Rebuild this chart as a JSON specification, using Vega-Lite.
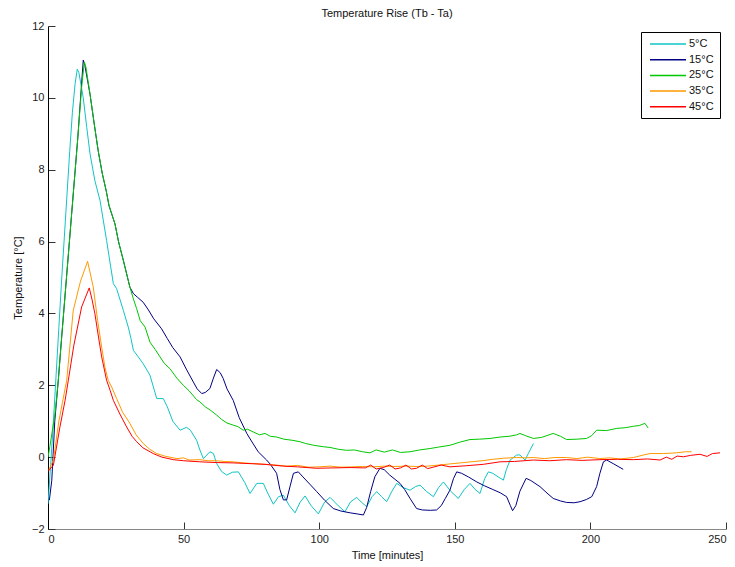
{
  "$schema": "https://vega.github.io/schema/vega-lite/v6.json",
  "autosize": {"type": "none"},
  "width": 678,
  "height": 503,
  "padding": {"left": 48, "top": 26, "right": 9, "bottom": 38},
  "background": "white",
  "config": {
    "view": {"stroke": null},
    "font": "Liberation Sans",
    "axis": {"grid": false, "labelFont": "Liberation Sans", "titleFont": "Liberation Sans", "labelFontSize": 11, "titleFontSize": 11, "titleFontWeight": "normal", "labelColor": "#222", "titleColor": "#111", "tickColor": "#333", "tickSize": -7, "labelPadding": 11}
  },
  "title": {"text": "Temperature Rise (Tb - Ta)", "font": "Liberation Sans", "fontSize": 11, "fontWeight": "normal", "color": "#111", "offset": 1},
  "data": {"values": [
{"s":"5°C","t":0,"v":-1.3},{"s":"5°C","t":1,"v":-0.2},{"s":"5°C","t":2,"v":1.0},{"s":"5°C","t":3,"v":2.3},{"s":"5°C","t":4,"v":3.6},{"s":"5°C","t":5,"v":4.9},{"s":"5°C","t":6,"v":6.1},{"s":"5°C","t":7,"v":7.3},{"s":"5°C","t":8,"v":8.5},{"s":"5°C","t":9,"v":9.6},{"s":"5°C","t":10,"v":10.4},{"s":"5°C","t":10.8,"v":10.8},{"s":"5°C","t":11.4,"v":10.7},{"s":"5°C","t":13,"v":10.0},{"s":"5°C","t":14.3,"v":9.17},{"s":"5°C","t":15.5,"v":8.44},{"s":"5°C","t":17.3,"v":7.69},{"s":"5°C","t":19.2,"v":7.14},{"s":"5°C","t":21.6,"v":6.03},{"s":"5°C","t":24.1,"v":4.83},{"s":"5°C","t":25.3,"v":4.69},{"s":"5°C","t":27.8,"v":4.08},{"s":"5°C","t":29.6,"v":3.62},{"s":"5°C","t":30.6,"v":3.3},{"s":"5°C","t":31.5,"v":2.97},{"s":"5°C","t":33.3,"v":2.79},{"s":"5°C","t":35.1,"v":2.6},{"s":"5°C","t":37.6,"v":2.28},{"s":"5°C","t":40.1,"v":1.63},{"s":"5°C","t":42.5,"v":1.63},{"s":"5°C","t":44,"v":1.4},{"s":"5°C","t":46,"v":1.0},{"s":"5°C","t":48.7,"v":0.75},{"s":"5°C","t":51.1,"v":0.83},{"s":"5°C","t":52.5,"v":0.75},{"s":"5°C","t":54.8,"v":0.47},{"s":"5°C","t":56,"v":0.2},{"s":"5°C","t":57.3,"v":-0.04},{"s":"5°C","t":59.7,"v":0.15},{"s":"5°C","t":61,"v":0.1},{"s":"5°C","t":62.2,"v":-0.18},{"s":"5°C","t":64,"v":-0.4},{"s":"5°C","t":65.9,"v":-0.5},{"s":"5°C","t":68,"v":-0.42},{"s":"5°C","t":70.2,"v":-0.41},{"s":"5°C","t":72.5,"v":-0.7},{"s":"5°C","t":74.5,"v":-1.01},{"s":"5°C","t":77,"v":-0.73},{"s":"5°C","t":79.4,"v":-0.73},{"s":"5°C","t":81,"v":-1.0},{"s":"5°C","t":83.1,"v":-1.31},{"s":"5°C","t":85,"v":-1.1},{"s":"5°C","t":86.8,"v":-1.06},{"s":"5°C","t":89,"v":-1.35},{"s":"5°C","t":91.1,"v":-1.55},{"s":"5°C","t":93,"v":-1.25},{"s":"5°C","t":94.8,"v":-1.08},{"s":"5°C","t":97,"v":-1.35},{"s":"5°C","t":99.7,"v":-1.58},{"s":"5°C","t":102,"v":-1.25},{"s":"5°C","t":104,"v":-1.12},{"s":"5°C","t":107,"v":-1.35},{"s":"5°C","t":109.5,"v":-1.52},{"s":"5°C","t":111.5,"v":-1.25},{"s":"5°C","t":113.8,"v":-1.12},{"s":"5°C","t":115.5,"v":-1.25},{"s":"5°C","t":117.5,"v":-1.38},{"s":"5°C","t":119.5,"v":-1.1},{"s":"5°C","t":121.2,"v":-0.96},{"s":"5°C","t":123,"v":-1.1},{"s":"5°C","t":124.9,"v":-1.24},{"s":"5°C","t":126.8,"v":-0.95},{"s":"5°C","t":128.6,"v":-0.73},{"s":"5°C","t":131,"v":-0.85},{"s":"5°C","t":133.5,"v":-0.92},{"s":"5°C","t":135.5,"v":-0.82},{"s":"5°C","t":137.2,"v":-0.78},{"s":"5°C","t":139.5,"v":-0.95},{"s":"5°C","t":142.1,"v":-1.1},{"s":"5°C","t":144,"v":-0.85},{"s":"5°C","t":145.8,"v":-0.69},{"s":"5°C","t":148.5,"v":-0.95},{"s":"5°C","t":151.3,"v":-1.15},{"s":"5°C","t":153.5,"v":-0.9},{"s":"5°C","t":155.6,"v":-0.73},{"s":"5°C","t":157.5,"v":-0.9},{"s":"5°C","t":159.3,"v":-1.01},{"s":"5°C","t":161,"v":-0.6},{"s":"5°C","t":162.4,"v":-0.41},{"s":"5°C","t":164,"v":-0.45},{"s":"5°C","t":166,"v":-0.55},{"s":"5°C","t":167.9,"v":-0.64},{"s":"5°C","t":169,"v":-0.35},{"s":"5°C","t":170.4,"v":-0.08},{"s":"5°C","t":172.8,"v":0.06},{"s":"5°C","t":174,"v":0.06},{"s":"5°C","t":175.9,"v":-0.08},{"s":"5°C","t":177.1,"v":0.1},{"s":"5°C","t":179,"v":0.38},
{"s":"15°C","t":0.5,"v":-1.2},{"s":"15°C","t":1.4,"v":-0.64},{"s":"15°C","t":2.5,"v":1.0},{"s":"15°C","t":3.8,"v":2.14},{"s":"15°C","t":5,"v":3.3},{"s":"15°C","t":6.5,"v":4.7},{"s":"15°C","t":8,"v":6.1},{"s":"15°C","t":9.5,"v":7.5},{"s":"15°C","t":11,"v":8.9},{"s":"15°C","t":12.2,"v":10.2},{"s":"15°C","t":13,"v":11.05},{"s":"15°C","t":13.6,"v":10.9},{"s":"15°C","t":15.5,"v":10.1},{"s":"15°C","t":17,"v":9.3},{"s":"15°C","t":18.5,"v":8.53},{"s":"15°C","t":20,"v":7.9},{"s":"15°C","t":21.5,"v":7.4},{"s":"15°C","t":22.5,"v":7.0},{"s":"15°C","t":24.7,"v":6.49},{"s":"15°C","t":26,"v":6.0},{"s":"15°C","t":27.8,"v":5.47},{"s":"15°C","t":29,"v":5.1},{"s":"15°C","t":30.2,"v":4.73},{"s":"15°C","t":31.5,"v":4.55},{"s":"15°C","t":33,"v":4.45},{"s":"15°C","t":35.1,"v":4.31},{"s":"15°C","t":37,"v":4.1},{"s":"15°C","t":39,"v":3.85},{"s":"15°C","t":41.9,"v":3.57},{"s":"15°C","t":44,"v":3.3},{"s":"15°C","t":46,"v":3.05},{"s":"15°C","t":48.7,"v":2.79},{"s":"15°C","t":51,"v":2.45},{"s":"15°C","t":53.6,"v":2.09},{"s":"15°C","t":55,"v":1.9},{"s":"15°C","t":56.7,"v":1.77},{"s":"15°C","t":58,"v":1.8},{"s":"15°C","t":59.7,"v":1.91},{"s":"15°C","t":61,"v":2.2},{"s":"15°C","t":62.2,"v":2.44},{"s":"15°C","t":63.5,"v":2.35},{"s":"15°C","t":64.6,"v":2.19},{"s":"15°C","t":66,"v":1.9},{"s":"15°C","t":68.3,"v":1.58},{"s":"15°C","t":70.5,"v":1.1},{"s":"15°C","t":73.3,"v":0.66},{"s":"15°C","t":75,"v":0.45},{"s":"15°C","t":77.5,"v":0.15},{"s":"15°C","t":80.6,"v":-0.08},{"s":"15°C","t":82,"v":-0.2},{"s":"15°C","t":84.3,"v":-0.45},{"s":"15°C","t":85.5,"v":-0.9},{"s":"15°C","t":86.8,"v":-1.19},{"s":"15°C","t":88,"v":-1.19},{"s":"15°C","t":89.3,"v":-0.8},{"s":"15°C","t":90.5,"v":-0.45},{"s":"15°C","t":92.3,"v":-0.41},{"s":"15°C","t":94,"v":-0.55},{"s":"15°C","t":96.5,"v":-0.75},{"s":"15°C","t":99.1,"v":-0.96},{"s":"15°C","t":102,"v":-1.2},{"s":"15°C","t":105.2,"v":-1.43},{"s":"15°C","t":108,"v":-1.5},{"s":"15°C","t":111.4,"v":-1.55},{"s":"15°C","t":114,"v":-1.58},{"s":"15°C","t":116.3,"v":-1.61},{"s":"15°C","t":117.5,"v":-1.4},{"s":"15°C","t":119,"v":-0.95},{"s":"15°C","t":120.5,"v":-0.55},{"s":"15°C","t":122.4,"v":-0.31},{"s":"15°C","t":124,"v":-0.35},{"s":"15°C","t":126,"v":-0.5},{"s":"15°C","t":128,"v":-0.62},{"s":"15°C","t":129.8,"v":-0.73},{"s":"15°C","t":131.5,"v":-0.9},{"s":"15°C","t":133.5,"v":-1.15},{"s":"15°C","t":135.9,"v":-1.43},{"s":"15°C","t":138,"v":-1.47},{"s":"15°C","t":141,"v":-1.48},{"s":"15°C","t":143.3,"v":-1.47},{"s":"15°C","t":145,"v":-1.35},{"s":"15°C","t":146.5,"v":-1.15},{"s":"15°C","t":148.2,"v":-0.92},{"s":"15°C","t":149.5,"v":-0.6},{"s":"15°C","t":150.7,"v":-0.41},{"s":"15°C","t":152.5,"v":-0.45},{"s":"15°C","t":155,"v":-0.55},{"s":"15°C","t":158.1,"v":-0.69},{"s":"15°C","t":161,"v":-0.8},{"s":"15°C","t":164,"v":-0.9},{"s":"15°C","t":166.7,"v":-0.99},{"s":"15°C","t":169.1,"v":-1.1},{"s":"15°C","t":170.5,"v":-1.35},{"s":"15°C","t":171.3,"v":-1.49},{"s":"15°C","t":172.5,"v":-1.35},{"s":"15°C","t":174,"v":-0.95},{"s":"15°C","t":176.3,"v":-0.59},{"s":"15°C","t":178,"v":-0.65},{"s":"15°C","t":181.4,"v":-0.82},{"s":"15°C","t":184,"v":-1.0},{"s":"15°C","t":186.3,"v":-1.15},{"s":"15°C","t":189,"v":-1.22},{"s":"15°C","t":191.2,"v":-1.26},{"s":"15°C","t":194,"v":-1.27},{"s":"15°C","t":196.2,"v":-1.24},{"s":"15°C","t":198.5,"v":-1.18},{"s":"15°C","t":200.5,"v":-1.1},{"s":"15°C","t":202.3,"v":-0.82},{"s":"15°C","t":203.5,"v":-0.45},{"s":"15°C","t":204.8,"v":-0.13},{"s":"15°C","t":206,"v":-0.08},{"s":"15°C","t":208.4,"v":-0.18},{"s":"15°C","t":210.5,"v":-0.27},{"s":"15°C","t":212.1,"v":-0.34},
{"s":"25°C","t":0,"v":0.0},{"s":"25°C","t":0.7,"v":0.3},{"s":"25°C","t":2.6,"v":1.22},{"s":"25°C","t":3.8,"v":2.14},{"s":"25°C","t":5,"v":3.3},{"s":"25°C","t":6.5,"v":4.7},{"s":"25°C","t":8,"v":6.1},{"s":"25°C","t":9.5,"v":7.5},{"s":"25°C","t":11,"v":8.9},{"s":"25°C","t":12.4,"v":10.3},{"s":"25°C","t":13.4,"v":11.0},{"s":"25°C","t":14,"v":10.85},{"s":"25°C","t":15.5,"v":10.1},{"s":"25°C","t":17,"v":9.3},{"s":"25°C","t":18.5,"v":8.53},{"s":"25°C","t":20,"v":7.9},{"s":"25°C","t":21.5,"v":7.4},{"s":"25°C","t":22.5,"v":7.0},{"s":"25°C","t":24.7,"v":6.49},{"s":"25°C","t":26,"v":6.0},{"s":"25°C","t":27.8,"v":5.47},{"s":"25°C","t":29,"v":5.1},{"s":"25°C","t":30.2,"v":4.73},{"s":"25°C","t":31.5,"v":4.4},{"s":"25°C","t":32.7,"v":4.13},{"s":"25°C","t":34,"v":3.8},{"s":"25°C","t":35.8,"v":3.62},{"s":"25°C","t":37.6,"v":3.2},{"s":"25°C","t":39.5,"v":3.0},{"s":"25°C","t":41.3,"v":2.79},{"s":"25°C","t":43,"v":2.6},{"s":"25°C","t":45,"v":2.46},{"s":"25°C","t":47.5,"v":2.2},{"s":"25°C","t":49.9,"v":2.0},{"s":"25°C","t":52,"v":1.85},{"s":"25°C","t":54.8,"v":1.6},{"s":"25°C","t":56,"v":1.54},{"s":"25°C","t":58,"v":1.4},{"s":"25°C","t":60,"v":1.3},{"s":"25°C","t":62.2,"v":1.17},{"s":"25°C","t":64,"v":1.05},{"s":"25°C","t":66,"v":0.95},{"s":"25°C","t":68.3,"v":0.89},{"s":"25°C","t":70,"v":0.85},{"s":"25°C","t":72,"v":0.75},{"s":"25°C","t":73.5,"v":0.78},{"s":"25°C","t":75.7,"v":0.7},{"s":"25°C","t":78,"v":0.62},{"s":"25°C","t":80,"v":0.66},{"s":"25°C","t":82,"v":0.58},{"s":"25°C","t":84.3,"v":0.56},{"s":"25°C","t":87,"v":0.5},{"s":"25°C","t":90,"v":0.47},{"s":"25°C","t":92.9,"v":0.43},{"s":"25°C","t":95,"v":0.38},{"s":"25°C","t":98,"v":0.33},{"s":"25°C","t":101.5,"v":0.29},{"s":"25°C","t":104,"v":0.27},{"s":"25°C","t":107,"v":0.22},{"s":"25°C","t":110.1,"v":0.19},{"s":"25°C","t":113,"v":0.2},{"s":"25°C","t":116,"v":0.15},{"s":"25°C","t":118.7,"v":0.12},{"s":"25°C","t":121,"v":0.2},{"s":"25°C","t":124,"v":0.14},{"s":"25°C","t":127,"v":0.2},{"s":"25°C","t":130,"v":0.13},{"s":"25°C","t":133.5,"v":0.15},{"s":"25°C","t":137,"v":0.2},{"s":"25°C","t":140.9,"v":0.24},{"s":"25°C","t":144,"v":0.28},{"s":"25°C","t":148.2,"v":0.33},{"s":"25°C","t":152,"v":0.42},{"s":"25°C","t":155.6,"v":0.49},{"s":"25°C","t":159,"v":0.5},{"s":"25°C","t":163,"v":0.52},{"s":"25°C","t":166.7,"v":0.56},{"s":"25°C","t":170,"v":0.58},{"s":"25°C","t":172.8,"v":0.62},{"s":"25°C","t":174,"v":0.66},{"s":"25°C","t":176,"v":0.6},{"s":"25°C","t":179,"v":0.52},{"s":"25°C","t":182,"v":0.55},{"s":"25°C","t":186.3,"v":0.66},{"s":"25°C","t":189,"v":0.58},{"s":"25°C","t":191.2,"v":0.49},{"s":"25°C","t":195,"v":0.5},{"s":"25°C","t":198.6,"v":0.52},{"s":"25°C","t":200.5,"v":0.6},{"s":"25°C","t":202.3,"v":0.75},{"s":"25°C","t":206,"v":0.74},{"s":"25°C","t":209.7,"v":0.8},{"s":"25°C","t":213,"v":0.82},{"s":"25°C","t":215.9,"v":0.86},{"s":"25°C","t":218,"v":0.88},{"s":"25°C","t":220.1,"v":0.94},{"s":"25°C","t":221.3,"v":0.81},
{"s":"35°C","t":0.3,"v":-0.35},{"s":"35°C","t":2,"v":-0.08},{"s":"35°C","t":4,"v":1.0},{"s":"35°C","t":6.9,"v":2.14},{"s":"35°C","t":9.3,"v":4.08},{"s":"35°C","t":12,"v":4.9},{"s":"35°C","t":14.6,"v":5.45},{"s":"35°C","t":16.7,"v":4.73},{"s":"35°C","t":18.3,"v":3.8},{"s":"35°C","t":19.8,"v":3.06},{"s":"35°C","t":21,"v":2.5},{"s":"35°C","t":22.2,"v":2.14},{"s":"35°C","t":23.5,"v":1.95},{"s":"35°C","t":25.3,"v":1.63},{"s":"35°C","t":27.5,"v":1.25},{"s":"35°C","t":30.2,"v":0.94},{"s":"35°C","t":32.5,"v":0.62},{"s":"35°C","t":35.1,"v":0.38},{"s":"35°C","t":37.5,"v":0.22},{"s":"35°C","t":40.1,"v":0.1},{"s":"35°C","t":43,"v":0.03},{"s":"35°C","t":47.5,"v":-0.04},{"s":"35°C","t":50,"v":-0.02},{"s":"35°C","t":52,"v":-0.08},{"s":"35°C","t":56,"v":-0.07},{"s":"35°C","t":59,"v":-0.1},{"s":"35°C","t":62.2,"v":-0.1},{"s":"35°C","t":65,"v":-0.12},{"s":"35°C","t":68.3,"v":-0.13},{"s":"35°C","t":72,"v":-0.16},{"s":"35°C","t":76,"v":-0.18},{"s":"35°C","t":80,"v":-0.2},{"s":"35°C","t":84,"v":-0.22},{"s":"35°C","t":88,"v":-0.25},{"s":"35°C","t":92,"v":-0.23},{"s":"35°C","t":96,"v":-0.28},{"s":"35°C","t":100,"v":-0.27},{"s":"35°C","t":104,"v":-0.25},{"s":"35°C","t":108,"v":-0.28},{"s":"35°C","t":112,"v":-0.27},{"s":"35°C","t":116,"v":-0.26},{"s":"35°C","t":120,"v":-0.27},{"s":"35°C","t":124,"v":-0.25},{"s":"35°C","t":128,"v":-0.26},{"s":"35°C","t":132,"v":-0.25},{"s":"35°C","t":136,"v":-0.26},{"s":"35°C","t":140,"v":-0.25},{"s":"35°C","t":144,"v":-0.22},{"s":"35°C","t":148,"v":-0.19},{"s":"35°C","t":152,"v":-0.16},{"s":"35°C","t":156,"v":-0.13},{"s":"35°C","t":160,"v":-0.1},{"s":"35°C","t":164,"v":-0.06},{"s":"35°C","t":168,"v":-0.03},{"s":"35°C","t":172.8,"v":-0.01},{"s":"35°C","t":176,"v":-0.02},{"s":"35°C","t":179,"v":-0.01},{"s":"35°C","t":183,"v":-0.04},{"s":"35°C","t":187,"v":-0.01},{"s":"35°C","t":191.2,"v":-0.01},{"s":"35°C","t":195,"v":-0.04},{"s":"35°C","t":199,"v":0.0},{"s":"35°C","t":203.5,"v":-0.04},{"s":"35°C","t":207,"v":-0.02},{"s":"35°C","t":211,"v":-0.05},{"s":"35°C","t":215.9,"v":-0.01},{"s":"35°C","t":219,"v":0.05},{"s":"35°C","t":222,"v":0.1},{"s":"35°C","t":227,"v":0.1},{"s":"35°C","t":231.8,"v":0.12},{"s":"35°C","t":235,"v":0.15},{"s":"35°C","t":237.3,"v":0.15},
{"s":"45°C","t":0,"v":-0.4},{"s":"45°C","t":2,"v":-0.22},{"s":"45°C","t":4.4,"v":0.84},{"s":"45°C","t":6.3,"v":1.58},{"s":"45°C","t":7.5,"v":2.14},{"s":"45°C","t":9.5,"v":3.1},{"s":"45°C","t":12.4,"v":4.18},{"s":"45°C","t":15.2,"v":4.71},{"s":"45°C","t":16.2,"v":4.4},{"s":"45°C","t":17.3,"v":3.99},{"s":"45°C","t":18.5,"v":3.4},{"s":"45°C","t":19.8,"v":2.79},{"s":"45°C","t":21.6,"v":2.14},{"s":"45°C","t":22.9,"v":1.86},{"s":"45°C","t":24.1,"v":1.58},{"s":"45°C","t":26.5,"v":1.2},{"s":"45°C","t":29,"v":0.84},{"s":"45°C","t":31,"v":0.58},{"s":"45°C","t":32.7,"v":0.43},{"s":"45°C","t":35,"v":0.26},{"s":"45°C","t":38.8,"v":0.1},{"s":"45°C","t":42,"v":0.0},{"s":"45°C","t":46.2,"v":-0.07},{"s":"45°C","t":50,"v":-0.1},{"s":"45°C","t":56,"v":-0.13},{"s":"45°C","t":62,"v":-0.15},{"s":"45°C","t":68.3,"v":-0.16},{"s":"45°C","t":74.5,"v":-0.18},{"s":"45°C","t":80,"v":-0.2},{"s":"45°C","t":86.8,"v":-0.25},{"s":"45°C","t":92,"v":-0.27},{"s":"45°C","t":99.1,"v":-0.31},{"s":"45°C","t":105,"v":-0.3},{"s":"45°C","t":111.4,"v":-0.29},{"s":"45°C","t":117,"v":-0.3},{"s":"45°C","t":119,"v":-0.22},{"s":"45°C","t":121,"v":-0.33},{"s":"45°C","t":123.6,"v":-0.29},{"s":"45°C","t":126,"v":-0.22},{"s":"45°C","t":128,"v":-0.33},{"s":"45°C","t":130,"v":-0.3},{"s":"45°C","t":132,"v":-0.22},{"s":"45°C","t":134,"v":-0.33},{"s":"45°C","t":135.9,"v":-0.31},{"s":"45°C","t":138,"v":-0.22},{"s":"45°C","t":140,"v":-0.32},{"s":"45°C","t":142,"v":-0.28},{"s":"45°C","t":145,"v":-0.22},{"s":"45°C","t":148.2,"v":-0.27},{"s":"45°C","t":154,"v":-0.24},{"s":"45°C","t":160.5,"v":-0.2},{"s":"45°C","t":166.7,"v":-0.13},{"s":"45°C","t":172,"v":-0.12},{"s":"45°C","t":179,"v":-0.08},{"s":"45°C","t":185,"v":-0.1},{"s":"45°C","t":191.2,"v":-0.07},{"s":"45°C","t":197,"v":-0.09},{"s":"45°C","t":203.5,"v":-0.07},{"s":"45°C","t":210,"v":-0.06},{"s":"45°C","t":215.9,"v":-0.07},{"s":"45°C","t":221,"v":-0.05},{"s":"45°C","t":225.7,"v":-0.08},{"s":"45°C","t":228,"v":0.0},{"s":"45°C","t":230,"v":-0.06},{"s":"45°C","t":232,"v":0.03},{"s":"45°C","t":234.3,"v":0.01},{"s":"45°C","t":237,"v":0.05},{"s":"45°C","t":240.4,"v":0.08},{"s":"45°C","t":243,"v":0.02},{"s":"45°C","t":245,"v":0.1},{"s":"45°C","t":247.8,"v":0.12}
  ]},
  "mark": {"type": "line", "strokeWidth": 1, "clip": true},
  "encoding": {
    "x": {"field": "t", "type": "quantitative", "scale": {"domain": [0, 250], "nice": false}, "axis": {"title": "Time [minutes]", "values": [0, 50, 100, 150, 200, 250], "domainColor": "#888", "titlePadding": 5}},
    "y": {"field": "v", "type": "quantitative", "scale": {"domain": [-2, 12], "nice": false}, "axis": {"title": "Temperature [°C]", "values": [-2, 0, 2, 4, 6, 8, 10, 12], "domainColor": "#000", "titlePadding": 8}},
    "color": {"field": "s", "type": "nominal", "scale": {"domain": ["5°C", "15°C", "25°C", "35°C", "45°C"], "range": ["#10c4c4", "#000080", "#00c800", "#ff9900", "#ff0000"]},
      "legend": {"title": null, "orient": "none", "legendX": 593, "legendY": 6, "direction": "vertical", "symbolType": "M-3.6,0L3.6,0", "symbolSize": 100, "symbolStrokeWidth": 1.5, "symbolOffset": 15, "labelOffset": 15, "labelFont": "Liberation Sans", "labelFontSize": 11, "labelColor": "#111", "padding": 6, "rowPadding": 4.7, "strokeColor": "#000", "fillColor": "#fff", "labelLimit": 100}},
    "order": {"field": "t", "type": "quantitative"}
  }
}
